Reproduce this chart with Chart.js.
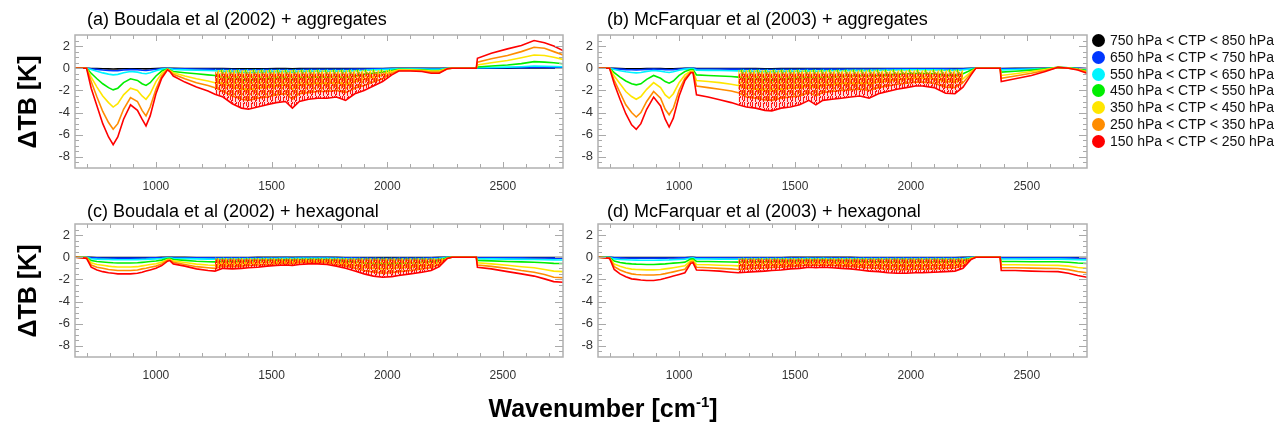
<!DOCTYPE html>
<html><head><meta charset="utf-8">
<script src="https://cdn.jsdelivr.net/npm/chart.js@4.4.1/dist/chart.umd.min.js"></script>
<style>
html,body{margin:0;padding:0;background:#fff;width:1286px;height:432px;overflow:hidden;font-family:"Liberation Sans",Arial,sans-serif;}
canvas{position:absolute;left:0;top:0;}
.t{position:absolute;white-space:nowrap;color:#000;z-index:5;}
.ptitle{font-size:18px;line-height:20px;}
.ytitle{font-size:25px;font-weight:bold;width:140px;height:30px;line-height:30px;text-align:center;transform:rotate(-90deg);}
.xtitle{font-size:25px;font-weight:bold;}
.xtitle sup{font-size:15px;font-weight:bold;vertical-align:10px;line-height:0;}
.leg{position:absolute;left:1092px;z-index:5;font-size:14px;line-height:17px;white-space:nowrap;color:#111;}
.leg span.dot{display:inline-block;width:13px;height:13px;border-radius:50%;vertical-align:-2px;margin-right:5px;}
</style></head><body>
<canvas id="c0" width="1286" height="432"></canvas>
<canvas id="c1" width="1286" height="432"></canvas>
<canvas id="c2" width="1286" height="432"></canvas>
<canvas id="c3" width="1286" height="432"></canvas>
<div id="texts"></div>
<script>
// ---------------- data ----------------
const WN = [650,700,720,745,770,795,815,835,860,890,920,940,957,975,1000,1025,1050,1060,1075,1125,1175,1225,1255,
  1290,1330,1370,1400,1440,1480,1520,1560,1590,1620,1660,1700,1740,1780,1820,1860,1900,1940,1980,2020,2050,2100,2150,2190,2225,2260,
  2280,2385,2390,2450,2520,2580,2635,2680,2720,2760];

const SERIES_LABELS = ['750 hPa < CTP < 850 hPa','650 hPa < CTP < 750 hPa','550 hPa < CTP < 650 hPa',
  '450 hPa < CTP < 550 hPa','350 hPa < CTP < 450 hPa','250 hPa < CTP < 350 hPa','150 hPa < CTP < 250 hPa'];
const PANEL_TITLES = ['(a) Boudala et al (2002) + aggregates','(b) McFarquar et al (2003) + aggregates',
  '(c) Boudala et al (2002) + hexagonal','(d) McFarquar et al (2003) + hexagonal'];
const X_TICKS = [1000,1500,2000,2500];
const Y_TICKS = [-8,-6,-4,-2,0,2];

// (a) Boudala + aggregates
const A_BLACK = [0,0,-0.02,-0.03,-0.05,-0.06,-0.07,-0.06,-0.05,-0.04,-0.04,-0.05,-0.06,-0.05,-0.03,-0.01,0,-0.01,-0.01,-0.02,-0.02,-0.03,-0.03,
  -0.03,-0.04,-0.04,-0.04,-0.04,-0.04,-0.03,-0.03,-0.04,-0.03,-0.03,-0.03,-0.03,-0.03,-0.03,-0.02,-0.02,-0.02,-0.02,-0.01,-0.01,-0.01,-0.01,-0.01,-0.01,0,
  0,0,0.01,0.01,0.01,0.02,0.02,0.02,0.02,0.02];
const A_BLUE = [0,0,-0.05,-0.1,-0.16,-0.2,-0.23,-0.21,-0.16,-0.12,-0.14,-0.18,-0.2,-0.16,-0.09,-0.03,-0.01,-0.02,-0.04,-0.06,-0.07,-0.08,-0.09,
  -0.1,-0.12,-0.13,-0.14,-0.13,-0.12,-0.11,-0.11,-0.13,-0.11,-0.1,-0.1,-0.1,-0.09,-0.1,-0.08,-0.07,-0.06,-0.05,-0.03,-0.02,-0.02,-0.03,-0.04,-0.04,0,
  0,0,0.02,0.03,0.04,0.05,0.08,0.07,0.06,0.05];
const A_CYAN = [0,0,-0.12,-0.28,-0.42,-0.53,-0.6,-0.55,-0.4,-0.3,-0.35,-0.45,-0.5,-0.4,-0.22,-0.08,-0.02,-0.05,-0.1,-0.15,-0.18,-0.2,-0.22,
  -0.28,-0.32,-0.35,-0.38,-0.35,-0.33,-0.3,-0.3,-0.35,-0.3,-0.28,-0.27,-0.27,-0.25,-0.28,-0.23,-0.2,-0.15,-0.12,-0.08,-0.05,-0.06,-0.08,-0.1,-0.1,-0.01,
  0,0,0.04,0.07,0.1,0.14,0.2,0.18,0.16,0.14];
const A_GREEN = [0,0,-0.45,-0.95,-1.4,-1.75,-1.95,-1.8,-1.3,-0.95,-1.1,-1.4,-1.55,-1.3,-0.7,-0.25,-0.05,-0.15,-0.3,-0.4,-0.5,-0.6,-0.65,
  -0.8,-0.95,-1.05,-1.1,-1.0,-0.95,-0.9,-0.85,-1.05,-0.85,-0.8,-0.8,-0.8,-0.75,-0.85,-0.7,-0.55,-0.45,-0.35,-0.2,-0.1,-0.12,-0.15,-0.2,-0.2,-0.02,
  0,0,0.12,0.2,0.3,0.42,0.6,0.55,0.5,0.4];
const A_YELLOW = [0,0,-0.8,-1.7,-2.5,-3.1,-3.5,-3.2,-2.4,-1.8,-2.0,-2.5,-2.8,-2.3,-1.2,-0.45,-0.08,-0.2,-0.4,-0.7,-0.95,-1.15,-1.3,
  -1.4,-1.7,-1.9,-1.95,-1.8,-1.7,-1.6,-1.5,-1.9,-1.5,-1.45,-1.4,-1.4,-1.3,-1.5,-1.2,-1.0,-0.8,-0.6,-0.3,-0.15,-0.15,-0.18,-0.25,-0.25,-0.03,
  0,0,0.3,0.5,0.7,0.95,1.2,1.15,1.0,0.8];
const A_ORANGE = [0,0,-1.2,-2.6,-3.9,-4.9,-5.5,-5.0,-3.7,-2.65,-3.0,-3.8,-4.3,-3.5,-1.9,-0.7,-0.1,-0.25,-0.55,-0.95,-1.3,-1.55,-1.75,
  -2.1,-2.5,-2.8,-2.9,-2.7,-2.6,-2.4,-2.3,-2.8,-2.3,-2.2,-2.1,-2.1,-2.0,-2.2,-1.8,-1.55,-1.25,-0.95,-0.45,-0.2,-0.2,-0.25,-0.35,-0.35,-0.04,
  0,0,0.55,0.85,1.15,1.5,1.9,1.8,1.5,1.2];
const A_RED = [0,0,-1.8,-3.4,-5.0,-6.2,-6.9,-6.2,-4.6,-3.3,-3.8,-4.6,-5.2,-4.3,-2.3,-0.9,-0.15,-0.3,-0.7,-1.25,-1.7,-2.05,-2.35,
  -2.6,-3.2,-3.6,-3.7,-3.5,-3.3,-3.1,-3.0,-3.6,-3.0,-2.8,-2.7,-2.7,-2.6,-2.9,-2.3,-2.0,-1.6,-1.2,-0.6,-0.25,-0.25,-0.3,-0.45,-0.45,-0.05,
  0,0,0.9,1.35,1.75,2.05,2.5,2.3,2.0,1.6];

// (b) McFarquar + aggregates
const B_BLACK = [0,0,-0.01,-0.03,-0.04,-0.05,-0.05,-0.05,-0.03,-0.02,-0.03,-0.04,-0.05,-0.04,-0.02,-0.01,0,0,-0.02,-0.02,-0.02,-0.03,-0.03,
  -0.03,-0.03,-0.04,-0.04,-0.03,-0.03,-0.03,-0.03,-0.03,-0.03,-0.03,-0.03,-0.02,-0.02,-0.02,-0.02,-0.02,-0.02,-0.02,-0.02,-0.02,-0.02,-0.02,-0.02,-0.02,-0.01,
  0,0,-0.02,-0.01,-0.01,0,0.02,0.01,0,-0.02];
const B_BLUE = [0,0,-0.04,-0.08,-0.12,-0.14,-0.15,-0.14,-0.1,-0.07,-0.09,-0.12,-0.14,-0.12,-0.07,-0.03,-0.01,-0.01,-0.06,-0.07,-0.07,-0.08,-0.08,
  -0.1,-0.1,-0.11,-0.11,-0.1,-0.1,-0.09,-0.08,-0.09,-0.08,-0.08,-0.08,-0.07,-0.07,-0.07,-0.07,-0.06,-0.06,-0.05,-0.05,-0.05,-0.05,-0.06,-0.07,-0.05,-0.02,
  0,0,-0.05,-0.04,-0.02,0,0.06,0.03,0,-0.05];
const B_CYAN = [0,0,-0.12,-0.22,-0.32,-0.38,-0.42,-0.38,-0.28,-0.2,-0.26,-0.34,-0.38,-0.32,-0.18,-0.08,-0.03,-0.03,-0.18,-0.19,-0.2,-0.22,-0.24,
  -0.28,-0.3,-0.31,-0.32,-0.3,-0.28,-0.27,-0.24,-0.27,-0.24,-0.23,-0.22,-0.21,-0.2,-0.21,-0.19,-0.18,-0.16,-0.15,-0.14,-0.14,-0.15,-0.18,-0.19,-0.15,-0.05,
  0,0,-0.15,-0.11,-0.07,-0.02,0.07,0.03,-0.02,-0.12];
const B_GREEN = [0,0,-0.4,-0.8,-1.15,-1.4,-1.5,-1.4,-1.0,-0.65,-0.9,-1.2,-1.35,-1.15,-0.65,-0.3,-0.12,-0.12,-0.6,-0.65,-0.7,-0.75,-0.8,
  -0.95,-1.0,-1.05,-1.1,-1.0,-0.95,-0.9,-0.8,-0.9,-0.8,-0.78,-0.75,-0.72,-0.7,-0.72,-0.65,-0.6,-0.55,-0.5,-0.47,-0.47,-0.5,-0.62,-0.65,-0.5,-0.15,
  0,0,-0.35,-0.27,-0.17,-0.06,0.08,0.03,-0.05,-0.2];
const B_YELLOW = [0,0,-0.7,-1.4,-2.1,-2.55,-2.8,-2.55,-1.9,-1.3,-1.75,-2.4,-2.7,-2.3,-1.3,-0.6,-0.25,-0.25,-1.1,-1.2,-1.3,-1.45,-1.55,
  -1.8,-1.9,-2.0,-2.05,-1.9,-1.8,-1.75,-1.55,-1.75,-1.55,-1.5,-1.4,-1.4,-1.35,-1.4,-1.25,-1.15,-1.05,-0.95,-0.9,-0.9,-0.95,-1.2,-1.25,-0.95,-0.3,
  0,0,-0.65,-0.5,-0.3,-0.12,0.08,0.02,-0.1,-0.3];
const B_ORANGE = [0,0,-1.1,-2.2,-3.3,-4.0,-4.4,-4.0,-3.0,-2.1,-2.7,-3.7,-4.2,-3.6,-2.0,-0.9,-0.35,-0.35,-1.6,-1.75,-1.9,-2.05,-2.2,
  -2.6,-2.7,-2.85,-2.9,-2.7,-2.6,-2.5,-2.2,-2.5,-2.2,-2.1,-2.0,-1.95,-1.9,-2.0,-1.75,-1.6,-1.45,-1.35,-1.25,-1.25,-1.35,-1.7,-1.75,-1.3,-0.45,
  0,0,-0.9,-0.7,-0.45,-0.2,0.08,0.0,-0.12,-0.35];
const B_RED = [0,0,-1.4,-2.8,-4.1,-5.1,-5.5,-5.0,-3.7,-2.6,-3.4,-4.6,-5.3,-4.5,-2.5,-1.1,-0.4,-0.4,-2.4,-2.6,-2.85,-3.1,-3.3,
  -3.5,-3.6,-3.8,-3.85,-3.6,-3.5,-3.3,-2.9,-3.3,-2.9,-2.8,-2.7,-2.6,-2.5,-2.7,-2.3,-2.1,-1.9,-1.75,-1.6,-1.6,-1.75,-2.25,-2.3,-1.7,-0.6,
  0,0,-1.2,-0.95,-0.65,-0.3,0.08,0.0,-0.15,-0.45];

// (c) Boudala + hexagonal
const C_BLACK = [0,0,-0.01,-0.02,-0.02,-0.02,-0.03,-0.03,-0.03,-0.03,-0.03,-0.02,-0.02,-0.02,-0.02,-0.01,-0.01,-0.01,-0.01,-0.01,-0.02,-0.02,-0.02,
  -0.02,-0.02,-0.02,-0.02,-0.01,-0.01,-0.01,-0.01,-0.01,-0.01,-0.01,-0.01,-0.01,-0.01,-0.02,-0.02,-0.02,-0.03,-0.03,-0.03,-0.03,-0.03,-0.02,-0.02,-0.01,0,
  0,0,-0.02,-0.02,-0.02,-0.02,-0.02,-0.02,-0.03,-0.03];
const C_BLUE = [0,0,-0.04,-0.06,-0.07,-0.07,-0.08,-0.08,-0.08,-0.08,-0.08,-0.07,-0.07,-0.06,-0.05,-0.04,-0.02,-0.02,-0.03,-0.04,-0.05,-0.06,-0.06,
  -0.05,-0.05,-0.05,-0.05,-0.04,-0.04,-0.04,-0.03,-0.04,-0.03,-0.03,-0.03,-0.03,-0.04,-0.05,-0.06,-0.07,-0.08,-0.09,-0.09,-0.08,-0.08,-0.07,-0.06,-0.04,0,
  0,0,-0.05,-0.05,-0.06,-0.06,-0.07,-0.07,-0.08,-0.08];
const C_CYAN = [0,-0.01,-0.13,-0.17,-0.19,-0.2,-0.21,-0.22,-0.22,-0.22,-0.21,-0.2,-0.19,-0.17,-0.15,-0.11,-0.05,-0.05,-0.09,-0.12,-0.15,-0.17,-0.18,
  -0.15,-0.16,-0.15,-0.14,-0.13,-0.12,-0.11,-0.1,-0.11,-0.1,-0.09,-0.09,-0.1,-0.12,-0.15,-0.18,-0.22,-0.25,-0.26,-0.25,-0.24,-0.22,-0.2,-0.18,-0.12,-0.01,
  0,0,-0.13,-0.15,-0.17,-0.19,-0.2,-0.22,-0.24,-0.25];
const C_GREEN = [0,-0.02,-0.3,-0.38,-0.43,-0.47,-0.5,-0.52,-0.52,-0.52,-0.5,-0.46,-0.43,-0.39,-0.34,-0.26,-0.12,-0.1,-0.2,-0.28,-0.36,-0.4,-0.42,
  -0.35,-0.37,-0.35,-0.33,-0.3,-0.28,-0.26,-0.24,-0.26,-0.22,-0.21,-0.21,-0.22,-0.28,-0.35,-0.43,-0.52,-0.58,-0.62,-0.6,-0.56,-0.52,-0.46,-0.41,-0.28,-0.03,
  0,0,-0.28,-0.33,-0.38,-0.42,-0.45,-0.5,-0.55,-0.57];
const C_YELLOW = [0,-0.03,-0.5,-0.65,-0.72,-0.8,-0.85,-0.88,-0.88,-0.88,-0.85,-0.78,-0.72,-0.66,-0.58,-0.44,-0.2,-0.18,-0.33,-0.48,-0.62,-0.7,-0.73,
  -0.6,-0.62,-0.6,-0.56,-0.52,-0.48,-0.44,-0.4,-0.44,-0.38,-0.36,-0.36,-0.38,-0.48,-0.6,-0.73,-0.88,-1.0,-1.05,-1.02,-0.95,-0.88,-0.78,-0.7,-0.48,-0.06,
  0,0,-0.5,-0.6,-0.72,-0.85,-0.95,-1.1,-1.25,-1.3];
const C_ORANGE = [0,-0.05,-0.7,-0.9,-1.0,-1.1,-1.15,-1.2,-1.2,-1.2,-1.15,-1.05,-1.0,-0.9,-0.8,-0.6,-0.28,-0.25,-0.45,-0.65,-0.85,-0.95,-1.0,
  -0.8,-0.85,-0.8,-0.75,-0.7,-0.65,-0.6,-0.55,-0.6,-0.5,-0.48,-0.48,-0.52,-0.65,-0.8,-1.0,-1.2,-1.35,-1.45,-1.4,-1.3,-1.2,-1.05,-0.95,-0.65,-0.08,
  0,0,-0.7,-0.82,-1.0,-1.2,-1.35,-1.55,-1.8,-1.85];
const C_RED = [0,-0.1,-0.9,-1.15,-1.3,-1.4,-1.45,-1.5,-1.5,-1.5,-1.45,-1.35,-1.25,-1.15,-1.0,-0.75,-0.35,-0.3,-0.6,-0.8,-1.05,-1.2,-1.25,
  -1.0,-1.05,-1.0,-0.95,-0.9,-0.8,-0.75,-0.7,-0.75,-0.65,-0.6,-0.6,-0.65,-0.8,-1.0,-1.25,-1.5,-1.7,-1.8,-1.75,-1.65,-1.5,-1.35,-1.2,-0.85,-0.1,
  0,0,-0.9,-1.05,-1.3,-1.5,-1.7,-1.95,-2.2,-2.25];

// (d) McFarquar + hexagonal
const D_BLACK = [0,0,-0.02,-0.02,-0.02,-0.03,-0.03,-0.03,-0.03,-0.03,-0.03,-0.03,-0.02,-0.02,-0.02,-0.02,-0.01,-0.01,-0.02,-0.02,-0.02,-0.02,-0.02,
  -0.02,-0.02,-0.02,-0.02,-0.02,-0.01,-0.01,-0.01,-0.01,-0.01,-0.01,-0.01,-0.01,-0.02,-0.02,-0.02,-0.02,-0.02,-0.02,-0.02,-0.02,-0.02,-0.02,-0.02,-0.01,0,
  0,0,-0.02,-0.02,-0.02,-0.02,-0.02,-0.02,-0.02,-0.02];
const D_BLUE = [0,0,-0.05,-0.06,-0.07,-0.08,-0.08,-0.08,-0.08,-0.08,-0.08,-0.08,-0.07,-0.07,-0.06,-0.05,-0.02,-0.02,-0.05,-0.05,-0.05,-0.05,-0.05,
  -0.05,-0.05,-0.05,-0.05,-0.05,-0.04,-0.04,-0.04,-0.04,-0.04,-0.04,-0.04,-0.04,-0.05,-0.05,-0.05,-0.05,-0.06,-0.06,-0.05,-0.05,-0.05,-0.05,-0.05,-0.04,-0.01,
  0,0,-0.05,-0.05,-0.05,-0.05,-0.05,-0.06,-0.07,-0.07];
const D_CYAN = [0,-0.01,-0.15,-0.2,-0.23,-0.25,-0.26,-0.27,-0.27,-0.27,-0.26,-0.25,-0.24,-0.22,-0.2,-0.18,-0.07,-0.06,-0.15,-0.16,-0.17,-0.18,-0.18,
  -0.18,-0.17,-0.17,-0.16,-0.15,-0.14,-0.13,-0.12,-0.13,-0.12,-0.13,-0.13,-0.14,-0.15,-0.17,-0.17,-0.18,-0.19,-0.19,-0.18,-0.18,-0.18,-0.17,-0.17,-0.13,-0.02,
  0,0,-0.16,-0.16,-0.17,-0.17,-0.17,-0.19,-0.22,-0.24];
const D_GREEN = [0,-0.03,-0.35,-0.47,-0.55,-0.6,-0.62,-0.63,-0.65,-0.65,-0.62,-0.6,-0.57,-0.53,-0.49,-0.44,-0.17,-0.15,-0.37,-0.38,-0.41,-0.43,-0.44,
  -0.43,-0.41,-0.4,-0.38,-0.36,-0.33,-0.32,-0.28,-0.3,-0.28,-0.3,-0.32,-0.33,-0.36,-0.4,-0.41,-0.44,-0.46,-0.46,-0.44,-0.44,-0.43,-0.41,-0.4,-0.32,-0.06,
  0,0,-0.38,-0.38,-0.4,-0.41,-0.41,-0.45,-0.52,-0.57];
const D_YELLOW = [0,-0.05,-0.62,-0.82,-0.97,-1.07,-1.1,-1.12,-1.14,-1.14,-1.1,-1.05,-1.0,-0.94,-0.86,-0.77,-0.3,-0.27,-0.65,-0.68,-0.72,-0.75,-0.78,
  -0.75,-0.72,-0.7,-0.67,-0.64,-0.59,-0.56,-0.5,-0.53,-0.5,-0.53,-0.56,-0.59,-0.64,-0.7,-0.72,-0.78,-0.8,-0.8,-0.78,-0.78,-0.75,-0.72,-0.7,-0.56,-0.1,
  0,0,-0.68,-0.68,-0.7,-0.72,-0.73,-0.8,-0.92,-1.0];
const D_ORANGE = [0,-0.07,-0.85,-1.15,-1.35,-1.5,-1.55,-1.58,-1.6,-1.6,-1.55,-1.48,-1.4,-1.32,-1.2,-1.08,-0.42,-0.38,-0.9,-0.95,-1.0,-1.05,-1.1,
  -1.05,-1.0,-0.97,-0.93,-0.9,-0.82,-0.78,-0.7,-0.74,-0.7,-0.74,-0.78,-0.82,-0.9,-0.97,-1.0,-1.08,-1.12,-1.12,-1.08,-1.08,-1.05,-1.0,-0.97,-0.78,-0.15,
  0,0,-0.95,-0.95,-0.98,-1.0,-1.02,-1.12,-1.28,-1.4];
const D_RED = [0,-0.1,-1.1,-1.5,-1.75,-1.95,-2.0,-2.05,-2.1,-2.1,-2.0,-1.9,-1.8,-1.7,-1.55,-1.4,-0.55,-0.5,-1.15,-1.2,-1.25,-1.35,-1.4,
  -1.35,-1.3,-1.25,-1.2,-1.15,-1.05,-1.0,-0.9,-0.95,-0.9,-0.95,-1.0,-1.05,-1.15,-1.25,-1.3,-1.4,-1.45,-1.45,-1.4,-1.4,-1.35,-1.3,-1.25,-1.0,-0.2,
  0,0,-1.2,-1.2,-1.25,-1.28,-1.3,-1.45,-1.65,-1.8];

// wavenumber range of the dense scatter of each panel, and the upper reach of that scatter per series
const SCATTER_RANGE = [[1255,2040],[1255,2250],[1255,2262],[1255,2262]];
const SCATTER_TOP_AB = [null,null,-0.03,-0.08,-0.15,-0.3,-0.5];
const SCATTER_TOP_CD = [null,null,-0.02,-0.04,-0.08,-0.12,-0.2];

// ---------------- styles / layout ----------------
const COLORS = ['#000000','#0036ff','#00f4ff','#00ee00','#ffe600','#ff8c00','#ff0000'];
const RGB = ['0,0,0','0,54,255','0,244,255','0,238,0','255,230,0','255,140,0','255,0,0'];
// dot/dash texture of the scatter: [column, rowStart, rowEnd] cells in an 8x6 tile
const PATTERN = [null,null,
  {cells:[[3,0,1],[7,3,5]],a:0.8,bg:0.05},
  {cells:[[1,0,2],[5,3,5],[6,0,1]],a:0.85,bg:0.06},
  {cells:[[2,0,5],[6,2,5],[4,4,5]],a:0.95,bg:0.12},
  {cells:[[1,0,5],[5,0,4],[7,0,2],[2,3,4]],a:0.9,bg:0.14},
  {cells:[[0,0,4],[3,1,5],[6,0,3],[4,0,1],[7,4,5]],a:0.9,bg:0.14}];
const RECTS = [{l:75,t:35,r:563,b:168},{l:598,t:35,r:1087,b:168},{l:75,t:224,r:563,b:357},{l:598,t:224,r:1087,b:357}];
const YW = 40, XH = 30;
const FONT = '"Liberation Sans", Arial, sans-serif';

function makePattern(ctx, s){
  const p = PATTERN[s];
  const c = document.createElement('canvas'); c.width = 8; c.height = 6;
  const g = c.getContext('2d');
  g.fillStyle = `rgba(${RGB[s]},${p.bg})`; g.fillRect(0,0,8,6);
  g.fillStyle = `rgba(${RGB[s]},${p.a})`;
  p.cells.forEach(([cx,r0,r1]) => g.fillRect(cx, r0, 1, r1 - r0 + 1));
  return ctx.createPattern(c,'repeat');
}

const framePlugin = {
  id:'frame',
  afterDatasetsDraw(chart){
    const {ctx, chartArea:a, scales:{x,y}} = chart;
    ctx.save();
    ctx.strokeStyle = '#a9a9a9'; ctx.lineWidth = 1;
    ctx.beginPath();
    for (let v = 700; v <= 2700; v += 100){
      const px = Math.round(x.getPixelForValue(v)) + 0.5;
      const L = (v % 500 === 0) ? 6 : 4;
      ctx.moveTo(px, a.bottom); ctx.lineTo(px, a.bottom - L);
      ctx.moveTo(px, a.top); ctx.lineTo(px, a.top + L);
    }
    for (let v = -8.5; v <= 2.5; v += 0.5){
      const py = Math.round(y.getPixelForValue(v)) + 0.5;
      const L = (Math.abs(v % 2) < 1e-9) ? 8 : 4;
      ctx.moveTo(a.left, py); ctx.lineTo(a.left + L, py);
      ctx.moveTo(a.right, py); ctx.lineTo(a.right - L, py);
    }
    ctx.stroke();
    ctx.lineWidth = 1.5; ctx.strokeStyle = '#b0b0b0';
    ctx.strokeRect(a.left, a.top, a.right - a.left, a.bottom - a.top);
    ctx.restore();
  }
};

function buildPanel(idx, series, range, tops){
  const canvas = document.getElementById('c' + idx);
  const ctx = canvas.getContext('2d');
  const R = RECTS[idx];
  const datasets = [];
  series.forEach((vals, s) => {
    const pts = WN.map((x, i) => ({x, y: vals[i]}));
    datasets.push({label: SERIES_LABELS[s], data: pts, borderColor: COLORS[s], borderWidth: 1.6,
      pointRadius: 0, fill: false, tension: 0, order: 100 - s * 2});
    if (tops[s] !== null){
      datasets.push({label: '', data: pts.filter(p => p.x >= range[0] && p.x <= range[1]),
        borderColor: 'rgba(0,0,0,0)', borderWidth: 0, pointRadius: 0, tension: 0,
        fill: {value: tops[s]}, backgroundColor: makePattern(ctx, s), order: 100 - s * 2 + 1});
    }
  });
  new Chart(ctx, {
    type: 'line',
    data: {datasets},
    options: {
      responsive: false, animation: false, devicePixelRatio: 1,
      layout: {padding: {left: R.l - YW, top: R.t, right: 1286 - R.r, bottom: 432 - R.b - XH}},
      plugins: {legend: {display: false}, tooltip: {enabled: false}, title: {display: false}},
      scales: {
        x: {type: 'linear', min: 650, max: 2760,
          afterFit(s){ s.height = XH; },
          afterBuildTicks(s){ s.ticks = X_TICKS.map(v => ({value: v})); },
          grid: {display: false, drawTicks: false}, border: {display: false},
          ticks: {font: {size: 12, family: FONT}, color: '#333', padding: 11, maxRotation: 0, autoSkip: false,
            callback: v => String(v)}},
        y: {type: 'linear', min: -9, max: 3,
          afterFit(s){ s.width = YW; },
          afterBuildTicks(s){ s.ticks = Y_TICKS.map(v => ({value: v})); },
          grid: {display: false, drawTicks: false}, border: {display: false},
          ticks: {font: {size: 13, family: FONT}, color: '#333', padding: 5, autoSkip: false,
            callback: v => String(v)}}
      }
    },
    plugins: [framePlugin]
  });
}

buildPanel(0, [A_BLACK,A_BLUE,A_CYAN,A_GREEN,A_YELLOW,A_ORANGE,A_RED], SCATTER_RANGE[0], SCATTER_TOP_AB);
buildPanel(1, [B_BLACK,B_BLUE,B_CYAN,B_GREEN,B_YELLOW,B_ORANGE,B_RED], SCATTER_RANGE[1], SCATTER_TOP_AB);
buildPanel(2, [C_BLACK,C_BLUE,C_CYAN,C_GREEN,C_YELLOW,C_ORANGE,C_RED], SCATTER_RANGE[2], SCATTER_TOP_CD);
buildPanel(3, [D_BLACK,D_BLUE,D_CYAN,D_GREEN,D_YELLOW,D_ORANGE,D_RED], SCATTER_RANGE[3], SCATTER_TOP_CD);

// ---------------- texts ----------------
const T = document.getElementById('texts');
function addDiv(cls, html, css){ const d = document.createElement('div'); d.className = cls; d.innerHTML = html; Object.assign(d.style, css); T.appendChild(d); return d; }
const TITLE_POS = [[87,9],[607,9],[87,201],[607,201]];
PANEL_TITLES.forEach((s, i) => addDiv('t ptitle', s, {left: TITLE_POS[i][0] + 'px', top: TITLE_POS[i][1] + 'px'}));
addDiv('t ytitle', 'ΔTB [K]', {left: (27 - 70) + 'px', top: (102 - 15) + 'px'});
addDiv('t ytitle', 'ΔTB [K]', {left: (27 - 70) + 'px', top: (291 - 15) + 'px'});
const xt = addDiv('t xtitle', 'Wavenumber [cm<sup>-1</sup>]', {top: '394px'});
xt.style.left = (603 - xt.offsetWidth / 2) + 'px';
const LEG_Y = [40, 57, 74, 90.5, 107, 124, 141];
SERIES_LABELS.forEach((s, i) => {
  const d = document.createElement('div'); d.className = 'leg';
  d.style.top = (LEG_Y[i] - 8.5) + 'px';
  d.innerHTML = `<span class="dot" style="background:${COLORS[i]}"></span>${s.replace(/</g,'&lt;')}`;
  T.appendChild(d);
});
</script>
</body></html>
